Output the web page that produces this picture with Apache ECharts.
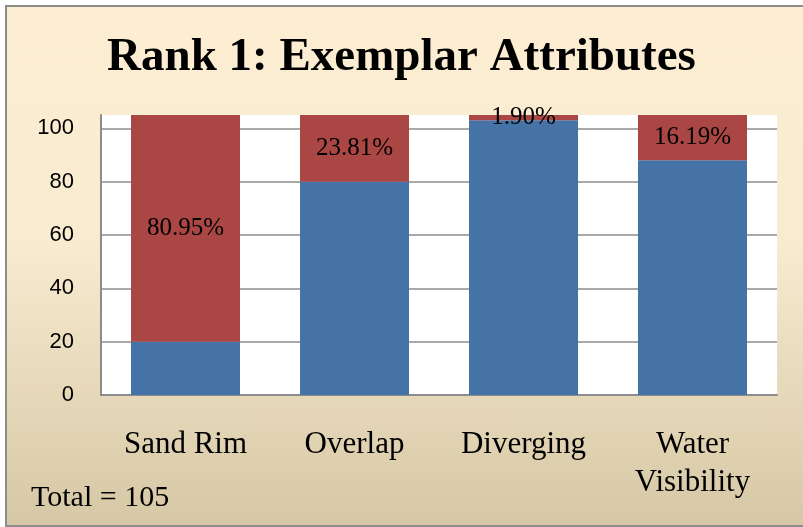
<!DOCTYPE html>
<html>
<head>
<meta charset="utf-8">
<script src="https://cdn.jsdelivr.net/npm/echarts@6/dist/echarts.min.js"></script>
<style>
  html, body { margin: 0; padding: 0; background: #fff; }
  #frame {
    position: absolute; left: 5px; top: 5px; width: 810px; height: 518px;
    border: 2px solid #8c8c8c;
    background: linear-gradient(to bottom, #fdeed3 0%, #f8ebd0 45%, #d6c8a5 100%);
  }
  #chart { position: absolute; left: 0; top: 0; width: 803px; height: 527px; }
</style>
</head>
<body>
<div id="frame"></div>
<div id="chart"></div>
<script>
const categories = ['Sand Rim', 'Overlap', 'Diverging', 'Water\nVisibility'];
const blueValues = [20, 80, 103, 88];
const redValues = [85, 25, 2, 17];
const total = 105;

const serif = '"Liberation Serif", "Times New Roman", serif';

const chart = echarts.init(document.getElementById('chart'), null, { renderer: 'canvas' });

chart.setOption({
  backgroundColor: 'transparent',
  animation: false,
  title: [
    {
      text: 'Rank 1: Exemplar Attributes',
      left: 'center',
      top: 29,
      textStyle: { fontFamily: serif, fontWeight: 'bold', fontSize: 47, color: '#000' }
    },
    {
      text: 'Total = ' + total,
      left: 26,
      top: 478,
      textStyle: { fontFamily: serif, fontWeight: 'normal', fontSize: 30, color: '#000' }
    }
  ],
  grid: { left: 101, right: 26, top: 115, bottom: 132, backgroundColor: '#fff', show: true, borderWidth: 0 },
  xAxis: {
    type: 'category',
    data: categories,
    axisLine: { show: true, lineStyle: { color: '#8c8c8c', width: 2 } },
    axisTick: { show: false },
    axisLabel: {
      fontFamily: serif, fontSize: 31, color: '#000', margin: 31, lineHeight: 38, interval: 0
    }
  },
  yAxis: {
    type: 'value',
    min: 0,
    max: total,
    interval: 20,
    axisLine: { show: true, lineStyle: { color: '#8c8c8c', width: 2 } },
    axisTick: { show: false },
    axisLabel: {
      showMaxLabel: false,
      fontFamily: '"Liberation Sans", Arial, sans-serif', fontSize: 22, color: '#000', margin: 27
    },
    splitLine: { show: true, showMaxLine: false, lineStyle: { color: '#8c8c8c', width: 1.5 } }
  },
  series: [
    {
      type: 'bar',
      stack: 'total',
      data: blueValues,
      barCategoryGap: '35.5%',
      itemStyle: { color: '#4572a7' }
    },
    {
      type: 'bar',
      stack: 'total',
      data: redValues,
      barCategoryGap: '35.5%',
      itemStyle: { color: '#aa4643' },
      label: {
        show: true,
        position: 'inside',
        fontFamily: serif,
        fontSize: 25,
        color: '#000',
        formatter: (p) => (p.value / total * 100).toFixed(2) + '%'
      }
    }
  ]
});
</script>
</body>
</html>
